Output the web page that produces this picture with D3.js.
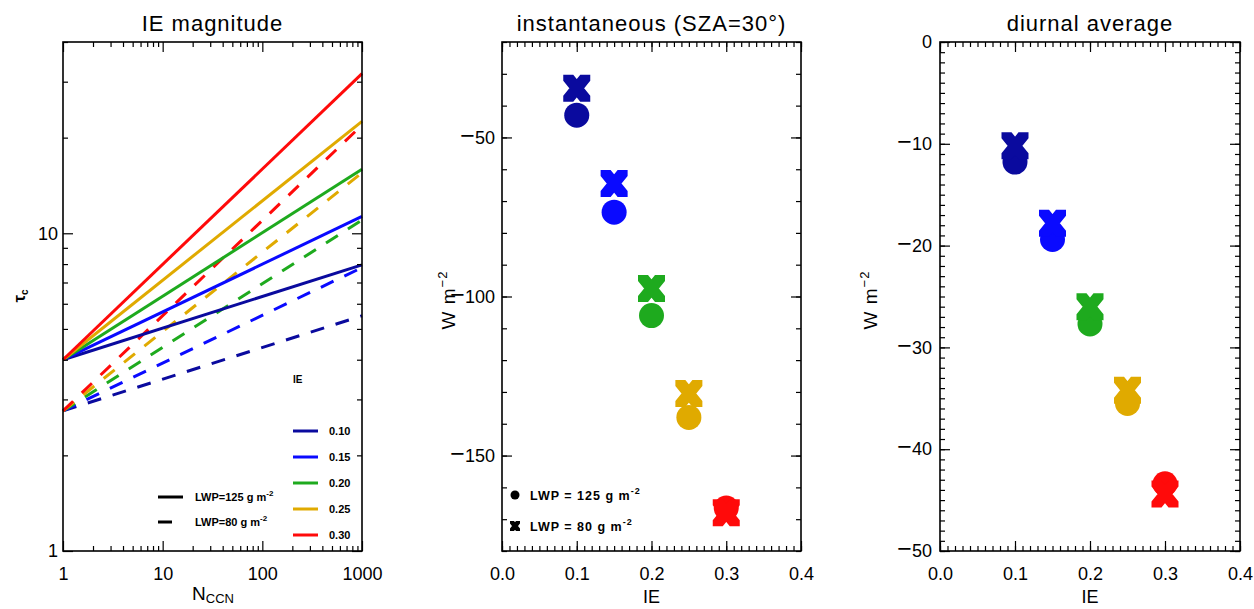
<!DOCTYPE html>
<html><head><meta charset="utf-8">
<script src="https://cdn.jsdelivr.net/npm/d3@7"></script>
<style>body{margin:0;background:#fff;} svg{display:block;} text{font-family:"Liberation Sans",Arial,sans-serif;fill:#000;}</style>
</head><body><svg id="c" width="1254" height="609"></svg>
<script>
// ---------- data ----------
const ieValues = [0.10, 0.15, 0.20, 0.25, 0.30];
const ieLabels = ["0.10", "0.15", "0.20", "0.25", "0.30"];
const seriesColors = ["#0a0a9e", "#0a0aff", "#1eaa1e", "#e0aa00", "#ff0a0a"];
const nccnEnds = [1, 1000];
const tauLWP125 = [[4.0, 7.95], [4.0, 11.3], [4.0, 15.9], [4.0, 22.5], [4.0, 31.8]];
const tauLWP80 = [[2.76, 5.5], [2.76, 7.8], [2.76, 11.0], [2.76, 15.5], [2.76, 21.9]];
const instLWP125 = [-43, -73.5, -106, -138, -166.5];
const instLWP80 = [-34.5, -64.5, -97.5, -130.5, -168];
const diurLWP125 = [-11.8, -19.4, -27.7, -35.5, -43.4];
const diurLWP80 = [-10.2, -17.8, -26.0, -34.2, -44.4];
const nccnTicks = [1, 10, 100, 1000];
const tauTicks = [1, 10];
const ieTicks = [0.0, 0.1, 0.2, 0.3, 0.4];
const instTicks = [-50, -100, -150];
const diurTicks = [0, -10, -20, -30, -40, -50];
const titles = ["IE magnitude", "instantaneous (SZA=30°)", "diurnal average"];

// ---------- layout ----------
const svg = d3.select("#c");
const H = 509, TOP = 42;
const panels = [{left: 63, w: 299}, {left: 502, w: 299}, {left: 940, w: 300}];

function bigMinus(sel) {
  sel.each(function () {
    const t = d3.select(this);
    const s = t.text();
    if (s.startsWith("−")) {
      t.text(null);
      t.append("tspan").attr("font-size", 25).text("−");
      t.append("tspan").text(s.slice(1));
    }
  });
}

function frame(g, x, y, w, h, o) {
  const add = (axis, tr) => {
    const a = g.append("g").attr("transform", tr).call(axis);
    a.select(".domain").remove();
    a.selectAll("line").attr("stroke", "#000").attr("stroke-width", 1.2);
    a.selectAll("text").attr("font-size", 18).attr("font-family", null).attr("fill", "#000");
    return a;
  };
  add(d3.axisBottom(x).tickValues(o.xMinor).tickSize(-5).tickFormat(""), `translate(0,${h})`);
  add(d3.axisBottom(x).tickValues(o.xMajor).tickSize(-10).tickPadding(16).tickFormat(o.xFmt), `translate(0,${h})`);
  add(d3.axisTop(x).tickValues(o.xMinor).tickSize(-5).tickFormat(""), "translate(0,0)");
  add(d3.axisTop(x).tickValues(o.xMajor).tickSize(-10).tickFormat(""), "translate(0,0)");
  add(d3.axisLeft(y).tickValues(o.yMinor).tickSize(-5).tickFormat(""), "translate(0,0)");
  const yl = add(d3.axisLeft(y).tickValues(o.yMajor).tickSize(-10).tickPadding(o.yPad).tickFormat(o.yFmt), "translate(0,0)");
  yl.selectAll("text").call(bigMinus);
  add(d3.axisRight(y).tickValues(o.yMinor).tickSize(-5).tickFormat(""), `translate(${w},0)`);
  add(d3.axisRight(y).tickValues(o.yMajor).tickSize(-10).tickFormat(""), `translate(${w},0)`);
  g.append("rect").attr("width", w).attr("height", h).attr("fill", "none").attr("stroke", "#000").attr("stroke-width", 1.6);
}

// X marker: two thick diagonal arms clipped to a box (flat ends)
function crossPaths(w, h, tw, sh) {
  const a = [[-w, -h], [-w + tw, -h], [w, h - sh], [w, h], [w - tw, h], [-w, -h + sh]];
  const b = a.map(([px, py]) => [-px, py]).reverse();
  const p = q => "M" + q.map(v => v.join(",")).join("L") + "Z";
  return p(a) + p(b);
}

const fmtInt = d3.format("d");
const fmt1 = d3.format(".1f");

// ---------- panel 1 ----------
{
  const P = panels[0];
  const g = svg.append("g").attr("transform", `translate(${P.left},${TOP})`);
  const x = d3.scaleLog().domain([1, 1000]).range([0, P.w]);
  const y = d3.scaleLog().domain([1, 40]).range([H, 0]);
  const line = d3.line().x(d => x(d[0])).y(d => y(d[1]));
  ieValues.forEach((ie, i) => {
    g.append("path").datum(nccnEnds.map((n, j) => [n, tauLWP80[i][j]]))
      .attr("d", line).attr("fill", "none").attr("stroke", seriesColors[i])
      .attr("stroke-width", 3).attr("stroke-dasharray", "14,12");
  });
  ieValues.forEach((ie, i) => {
    g.append("path").datum(nccnEnds.map((n, j) => [n, tauLWP125[i][j]]))
      .attr("d", line).attr("fill", "none").attr("stroke", seriesColors[i]).attr("stroke-width", 3);
  });
  frame(g, x, y, P.w, H, {
    xMajor: nccnTicks, xMinor: x.ticks().filter(v => !nccnTicks.includes(v)),
    yMajor: tauTicks, yMinor: y.ticks().filter(v => !tauTicks.includes(v)),
    xFmt: fmtInt, yFmt: fmtInt, yPad: 5
  });
  // IE legend
  const lg = svg.append("g");
  lg.append("text").attr("x", 293).attr("y", 383).attr("font-size", 10).attr("font-weight", "bold").text("IE");
  ieLabels.forEach((lab, i) => {
    const yy = 431 + i * 26;
    lg.append("line").attr("x1", 293).attr("x2", 318).attr("y1", yy).attr("y2", yy)
      .attr("stroke", seriesColors[i]).attr("stroke-width", 3);
    lg.append("text").attr("x", 329).attr("y", yy + 4).attr("font-size", 11).attr("font-weight", "bold").text(lab);
  });
  // LWP legend
  const lw = [["LWP=125 g m", null, 497], ["LWP=80 g m", "14,12", 522]];
  lw.forEach(([t, dash, yy]) => {
    lg.append("line").attr("x1", 158).attr("x2", dash ? 172 : 183).attr("y1", yy).attr("y2", yy)
      .attr("stroke", "#000").attr("stroke-width", 3);
    const tx = lg.append("text").attr("x", 195).attr("y", yy + 4).attr("font-size", 11).attr("font-weight", "bold").text(t);
    tx.append("tspan").attr("dy", -5).attr("font-size", 8).text("-2");
  });
  // axis titles
  svg.append("text").attr("x", P.left + P.w / 2).attr("y", 31).attr("text-anchor", "middle")
    .attr("font-size", 22).attr("letter-spacing", 1).text(titles[0]);
  const xl = svg.append("text").attr("x", 213).attr("y", 600).attr("text-anchor", "middle").attr("font-size", 19);
  xl.append("tspan").text("N");
  xl.append("tspan").attr("font-size", 13).attr("dy", 3).text("CCN");
  const yl = svg.append("text").attr("transform", "translate(25,296) rotate(-90)").attr("text-anchor", "middle").attr("font-size", 17).attr("font-weight", "bold");
  yl.append("tspan").text("τ");
  yl.append("tspan").attr("font-size", 10).attr("dy", 3).text("c");
}

// ---------- panels 2 and 3 ----------
function scatterPanel(P, title, yDomain, yMajor, yMinorStep, circ, cross, ylabX, yPad) {
  const g = svg.append("g").attr("transform", `translate(${P.left},${TOP})`);
  const x = d3.scaleLinear().domain([0, 0.4]).range([0, P.w]);
  const y = d3.scaleLinear().domain(yDomain).range([H, 0]);
  frame(g, x, y, P.w, H, {
    xMajor: ieTicks, xMinor: d3.range(0, 0.4001, 0.01).map(v => +v.toFixed(2)),
    yMajor: yMajor, yMinor: d3.range(yDomain[0], yDomain[1] + 0.001, yMinorStep),
    xFmt: fmt1, yFmt: fmtInt, yPad: yPad
  });
  ieValues.forEach((ie, i) => {
    g.append("circle").attr("cx", x(ie)).attr("cy", y(circ[i])).attr("r", 12.5).attr("fill", seriesColors[i]);
    g.append("path").attr("transform", `translate(${x(ie)},${y(cross[i])})`)
      .attr("d", crossPaths(13.5, 13.5, 10, 6)).attr("fill", seriesColors[i]);
  });
  svg.append("text").attr("x", P.left + P.w / 2).attr("y", 31).attr("text-anchor", "middle")
    .attr("font-size", 22).attr("letter-spacing", 1).text(title);
  svg.append("text").attr("x", P.left + P.w / 2).attr("y", 603).attr("text-anchor", "middle").attr("font-size", 18).text("IE");
  const yl = svg.append("text").attr("transform", `translate(${ylabX},300) rotate(-90)`).attr("text-anchor", "middle").attr("font-size", 19).attr("letter-spacing", 1);
  yl.append("tspan").text("W  m");
  yl.append("tspan").attr("font-size", 13).attr("dy", -8).text("−2");
  return g;
}

scatterPanel(panels[1], titles[1], [-180, -20], instTicks, 10, instLWP125, instLWP80, 455, 7);
scatterPanel(panels[2], titles[2], [-50, 0], diurTicks, 1, diurLWP125, diurLWP80, 877, 8);

// middle legend
{
  const lg = svg.append("g");
  lg.append("circle").attr("cx", 515).attr("cy", 495).attr("r", 4.5).attr("fill", "#000");
  lg.append("path").attr("transform", "translate(515,526)").attr("d", crossPaths(5, 5, 4, 2.5)).attr("fill", "#000");
  [["LWP = 125 g m", 495], ["LWP = 80 g m", 526]].forEach(([t, yy]) => {
    const tx = lg.append("text").attr("x", 530).attr("y", yy + 5).attr("font-size", 12.5).attr("font-weight", "bold").attr("letter-spacing", 1).text(t);
    tx.append("tspan").attr("dy", -6).attr("font-size", 9).text("-2");
  });
}
</script></body></html>
